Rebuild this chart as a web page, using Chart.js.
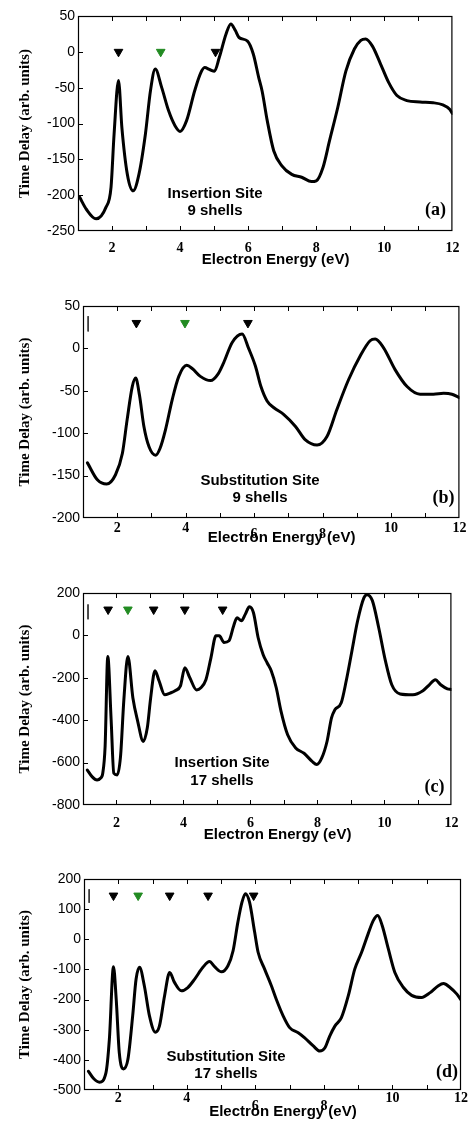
<!DOCTYPE html>
<html>
<head>
<meta charset="utf-8">
<script src="https://cdn.jsdelivr.net/npm/chart.js@4.4.1/dist/chart.umd.min.js"></script>
<style>
  body { margin: 0; background: #fff; }
  canvas { display: block; }
</style>
</head>
<body>
<canvas id="panelA" width="468" height="280"></canvas>
<canvas id="panelB" width="468" height="285"></canvas>
<canvas id="panelC" width="468" height="285"></canvas>
<canvas id="panelD" width="468" height="280"></canvas>
<script>
// (a) insertion site, 9 shells
const energyA = [1.05,1.25,1.53,1.82,1.97,2.06,2.19,2.29,2.45,2.62,2.79,2.98,3.13,3.27,3.46,3.66,3.85,4.0,4.19,4.43,4.6,4.72,4.88,5.01,5.15,5.35,5.49,5.62,5.73,5.98,6.15,6.31,6.41,6.56,6.75,6.99,7.28,7.57,7.86,8.0,8.2,8.39,8.63,8.87,9.12,9.31,9.45,9.65,9.89,10.13,10.37,10.66,11.05,11.43,11.72,11.92,12.0];
const delayA = [-203,-220,-233,-217,-189,-115,-40,-106,-171,-194,-171,-115,-54,-24,-50,-82,-103,-111,-96,-54,-30,-22,-25,-27,-8,25,39,30,20,15,-3,-36,-55,-96,-138,-159,-171,-175,-181,-180,-161,-124,-78,-27,4,16,18,8,-17,-43,-61,-68,-70,-71,-74,-80,-86];
const blackMarksA = [2.19, 5.04];
const greenMarksA = [3.43];
const markLevelA = 0;

// (b) substitution site, 9 shells
const energyB = [1.13,1.42,1.69,1.95,2.15,2.29,2.44,2.54,2.65,2.78,2.93,3.12,3.25,3.41,3.61,3.8,4.03,4.2,4.43,4.73,4.95,5.11,5.36,5.65,5.84,6.04,6.2,6.38,6.58,6.87,7.21,7.5,7.84,8.13,8.42,8.76,9.1,9.39,9.54,9.78,10.12,10.47,10.85,11.24,11.54,11.78,12.0];
const delayB = [-135,-155,-160,-149,-124,-84,-45,-35,-55,-92,-116,-126,-118,-96,-60,-33,-20,-24,-33,-38,-30,-17,7,17,0,-21,-45,-62,-70,-78,-92,-108,-114,-104,-72,-37,-9,9,11,1,-25,-45,-54,-54,-53,-54,-58];
const blackMarksB = [2.56, 5.82];
const greenMarksB = [3.98];
const markLevelB = 30;
const barB = [38, 20];

// (c) insertion site, 17 shells
const energyC = [1.13,1.27,1.42,1.52,1.59,1.66,1.74,1.84,1.92,2.02,2.12,2.22,2.34,2.49,2.63,2.8,2.92,3.02,3.15,3.27,3.44,3.6,3.75,3.91,4.04,4.19,4.39,4.52,4.67,4.82,4.97,5.07,5.21,5.36,5.5,5.6,5.73,5.84,5.97,6.09,6.23,6.38,6.5,6.62,6.77,6.91,7.11,7.35,7.6,7.84,7.98,8.13,8.29,8.42,8.52,8.71,8.86,9.01,9.2,9.39,9.48,9.64,9.83,10.03,10.22,10.47,10.85,11.15,11.34,11.52,11.68,11.88,12.0];
const delayC = [-635,-666,-682,-674,-650,-524,-99,-398,-650,-658,-572,-304,-99,-295,-403,-500,-436,-295,-167,-214,-280,-272,-261,-238,-153,-200,-257,-247,-209,-106,-2,-2,-33,-25,46,83,69,98,135,107,-11,-91,-130,-167,-247,-356,-469,-531,-556,-594,-609,-578,-498,-389,-351,-318,-214,-90,69,178,192,164,36,-120,-233,-276,-280,-261,-233,-209,-233,-252,-255];
const blackMarksC = [1.75, 3.11, 4.04, 5.17];
const greenMarksC = [2.34];
const markLevelC = 122;
const barC = [146, 76];

// (d) substitution site, 17 shells
const energyD = [1.13,1.28,1.45,1.64,1.74,1.86,1.94,2.03,2.15,2.28,2.42,2.52,2.62,2.76,2.91,3.08,3.2,3.35,3.5,3.64,3.84,4.03,4.23,4.47,4.66,4.81,5.01,5.2,5.35,5.49,5.61,5.71,5.83,5.98,6.08,6.27,6.47,6.61,6.81,7.0,7.25,7.44,7.69,7.88,8.03,8.17,8.32,8.51,8.71,8.9,9.1,9.29,9.44,9.57,9.7,9.88,10.07,10.32,10.56,10.85,11.1,11.34,11.49,11.68,11.88,12.0];
const delayD = [-438,-462,-474,-443,-332,-91,-199,-377,-430,-399,-254,-132,-93,-154,-254,-308,-288,-188,-110,-143,-171,-160,-132,-93,-74,-91,-108,-88,-38,57,123,151,123,23,-43,-99,-155,-199,-254,-293,-310,-327,-354,-371,-360,-321,-288,-260,-188,-99,-43,18,62,79,46,-32,-110,-160,-186,-193,-177,-154,-147,-160,-182,-201];
const blackMarksD = [1.86, 3.5, 4.62, 5.95];
const greenMarksD = [2.58];
const markLevelD = 145;
const barD = [166, 121];

const barX = 1.15;
const xTitle = 'Electron Energy (eV)';
const yTitle = 'Time Delay (arb. units)';

const SANS = "'Liberation Sans', Arial, sans-serif";
const SERIF = "'Liberation Serif', 'Times New Roman', serif";
const GREEN = '#228b22';

// box round the plot, inward ticks, panel notes
const frameAndText = {
  id: 'frameAndText',
  afterDraw(chart, args, o) {
    const {ctx, chartArea: a, scales: {x, y}} = chart;
    ctx.save();
    ctx.strokeStyle = '#000';
    ctx.lineWidth = 1.2;
    ctx.strokeRect(a.left + 0.5, a.top + 0.5, a.right - a.left - 1, a.bottom - a.top - 1);
    ctx.lineWidth = 1;
    ctx.beginPath();
    x.ticks.forEach(t => {
      if (t.value <= x.min || t.value >= x.max) return;
      const px = Math.round(x.getPixelForValue(t.value)) + 0.5;
      ctx.moveTo(px, a.bottom); ctx.lineTo(px, a.bottom - 5);
      ctx.moveTo(px, a.top); ctx.lineTo(px, a.top + 5);
    });
    y.ticks.forEach(t => {
      if (t.value <= y.min || t.value >= y.max) return;
      const py = Math.round(y.getPixelForValue(t.value)) + 0.5;
      ctx.moveTo(a.left, py); ctx.lineTo(a.left + 5, py);
    });
    ctx.stroke();

    ctx.fillStyle = '#000';
    ctx.textAlign = 'center';
    ctx.textBaseline = 'middle';
    ctx.font = 'bold 15px ' + SANS;
    ctx.fillText(o.site[0], a.left + o.siteX, a.bottom - o.siteY);
    ctx.fillText(o.site[1], a.left + o.siteX, a.bottom - o.siteY + o.gap);
    ctx.font = 'bold 18px ' + SERIF;
    ctx.fillText(o.tag, a.right - o.tagX, a.bottom - o.tagY);
    ctx.restore();
  }
};

function drawPanel(id, p) {
  const ctx = document.getElementById(id).getContext('2d');
  const drop = p.drop || [];
  const datasets = [
    {
      data: p.energy.map((e, i) => ({x: e, y: p.delay[i]})),
      showLine: true,
      borderColor: '#000',
      borderWidth: 3,
      borderJoinStyle: 'round',
      borderCapStyle: 'round',
      pointRadius: 0,
      cubicInterpolationMode: 'monotone'
    },
    {
      data: p.black.map(e => ({x: e, y: p.level})),
      pointStyle: 'triangle', rotation: 180, pointRadius: 5,
      backgroundColor: '#000', borderColor: '#000', borderWidth: 1
    },
    {
      data: p.green.map(e => ({x: e, y: p.level})),
      pointStyle: 'triangle', rotation: 180, pointRadius: 5,
      backgroundColor: GREEN, borderColor: GREEN, borderWidth: 1
    }
  ];
  if (p.bar) {
    datasets.push({
      data: p.bar.map(v => ({x: barX, y: v})),
      showLine: true, borderColor: '#333', borderWidth: 1, pointRadius: 0
    });
  }

  return new Chart(ctx, {
    type: 'scatter',
    data: { datasets: datasets },
    options: {
      responsive: false,
      animation: false,
      events: [],
      layout: { padding: { top: p.top, right: 7, left: 0, bottom: 0 } },
      plugins: {
        legend: { display: false },
        tooltip: { enabled: false },
        frameAndText: p.notes
      },
      scales: {
        x: {
          type: 'linear', min: 1, max: 12,
          grid: { display: false, drawTicks: false },
          border: { display: false },
          afterFit: s => { s.height = p.xHeight; },
          ticks: {
            stepSize: 1, autoSkip: false, maxRotation: 0, padding: p.xPad, color: '#000',
            callback: v => v % 2 ? '' : (drop.includes(v) ? ['', String(v)] : String(v)),
            font: c => ({
              family: SERIF, size: 14, weight: 'bold',
              lineHeight: c.tick && drop.includes(c.tick.value) ? p.dropLine : 1.2
            })
          },
          title: {
            display: true, text: '     ' + xTitle, color: '#000',
            font: { family: SANS, size: 15, weight: 'bold' },
            padding: { top: 0, bottom: p.xTitlePad }
          }
        },
        y: {
          min: p.yMin, max: p.yMax,
          grid: { display: false, drawTicks: false },
          border: { display: false },
          afterFit: s => { s.width = p.yWidth; },
          ticks: { stepSize: p.yStep, padding: 3, color: '#000', font: { family: SANS, size: 14 } },
          title: {
            display: true, text: yTitle, color: '#000',
            font: { family: SERIF, size: 15, weight: 'bold' },
            padding: { top: 16, bottom: 0 }
          }
        }
      }
    },
    plugins: [frameAndText]
  });
}

drawPanel('panelA', {
  energy: energyA, delay: delayA, black: blackMarksA, green: greenMarksA, level: markLevelA,
  yMin: -250, yMax: 50, yStep: 50,
  top: 16, yWidth: 78, xHeight: 49, xPad: 8.6, xTitlePad: 11,
  notes: { site: ['Insertion Site', '9 shells'], siteX: 137, siteY: 37, gap: 17, tag: '(a)', tagX: 17, tagY: 21 }
});

drawPanel('panelB', {
  energy: energyB, delay: delayB, black: blackMarksB, green: greenMarksB, level: markLevelB, bar: barB,
  yMin: -200, yMax: 50, yStep: 50,
  top: 26, yWidth: 83, xHeight: 47, xPad: 1.6, xTitlePad: 18, drop: [6, 8], dropLine: '10px',
  notes: { site: ['Substitution Site', '9 shells'], siteX: 177, siteY: 37, gap: 17, tag: '(b)', tagX: 16, tagY: 20 }
});

drawPanel('panelC', {
  energy: energyC, delay: delayC, black: blackMarksC, green: greenMarksC, level: markLevelC, bar: barC,
  yMin: -800, yMax: 200, yStep: 200,
  top: 28, yWidth: 83, xHeight: 45, xPad: 9.6, xTitlePad: 6,
  notes: { site: ['Insertion Site', '17 shells'], siteX: 139, siteY: 42, gap: 18, tag: '(c)', tagX: 17, tagY: 18 }
});

drawPanel('panelD', {
  energy: energyD, delay: delayD, black: blackMarksD, green: greenMarksD, level: markLevelD, bar: barD,
  yMin: -500, yMax: 200, yStep: 100,
  top: 29, yWidth: 84, xHeight: 40, xPad: 0, xTitlePad: 9, drop: [6, 8], dropLine: '11px',
  notes: { site: ['Substitution Site', '17 shells'], siteX: 142, siteY: 33, gap: 17, tag: '(d)', tagX: 14, tagY: 18 }
});
</script>
</body>
</html>
